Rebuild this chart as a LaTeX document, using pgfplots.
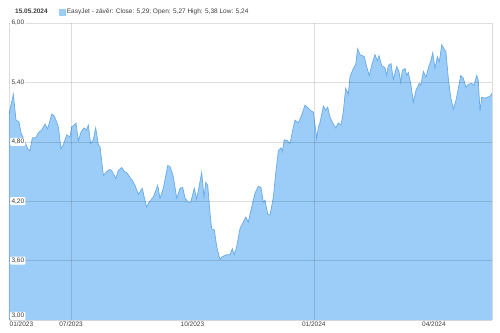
\documentclass[border=0pt]{standalone}
\usepackage{fontspec}
\setmainfont{Liberation Sans}
\usepackage{pgfplots}
\usepackage{pgfplotstable}
\pgfplotsset{compat=1.18}
\definecolor{areafill}{RGB}{155,205,248}
\definecolor{arealine}{RGB}{105,170,230}
\definecolor{labc}{RGB}{60,60,60}

\pgfplotstableread{
d v
0 5.08
3.3 5.28
5.3 5.02
7.6 5.00
9.1 4.89
10.8 4.84
14.2 4.73
15.9 4.71
17.7 4.84
20.2 4.84
22.2 4.89
24.8 4.92
27.3 4.98
29.3 4.93
32.4 5.08
34.3 5.06
36.1 5.00
37.4 4.95
39.4 4.73
41.1 4.77
43.7 4.87
46.2 4.85
47.5 4.95
49.3 4.97
50.8 4.99
52.5 4.81
54.6 4.90
56.8 4.94
58.9 4.92
60.1 4.97
61.9 4.78
63.9 4.82
65.7 4.94
67.7 4.77
69.0 4.75
71.5 4.46
74.0 4.50
76.5 4.52
77.8 4.51
80.9 4.43
82.8 4.51
85.4 4.54
87.4 4.50
89.2 4.49
91.7 4.44
93.4 4.41
95.5 4.36
98.0 4.27
101.0 4.33
102.5 4.24
104.3 4.14
106.1 4.19
109.3 4.24
112.7 4.36
114.4 4.23
116.9 4.33
120.3 4.56
122.0 4.55
124.5 4.45
127.1 4.23
129.6 4.33
131.6 4.34
133.4 4.23
135.9 4.19
137.7 4.19
140.4 4.33
142.2 4.22
144.2 4.36
146.0 4.49
147.8 4.24
149.1 4.39
150.6 4.36
152.3 4.08
153.6 3.92
155.6 3.91
157.4 3.74
159.9 3.61
161.6 3.64
165.0 3.66
167.5 3.66
169.2 3.72
170.7 3.66
172.5 3.74
175.0 3.92
176.8 3.97
179.4 4.04
181.3 3.99
183.9 4.14
186.4 4.28
188.9 4.35
191.0 4.34
192.7 4.19
194.0 4.21
196.0 4.07
197.8 4.06
200.3 4.24
202.1 4.48
204.1 4.71
206.1 4.74
207.1 4.70
208.6 4.82
211.2 4.81
212.9 4.78
214.7 4.90
216.7 5.02
219.2 4.99
221.8 5.07
224.3 5.17
226.8 5.14
228.1 5.12
230.6 5.10
231.9 4.97
233.2 4.83
234.4 4.95
235.6 4.99
238.2 5.16
240.0 5.12
241.5 5.15
243.2 5.05
245.7 4.98
247.6 4.94
249.5 4.99
251.6 4.97
253.3 5.10
255.1 5.34
257.1 5.28
258.4 5.46
260.9 5.54
262.7 5.58
264.2 5.74
266.0 5.68
269.2 5.66
271.0 5.56
273.0 5.47
274.8 5.57
277.3 5.68
279.1 5.62
280.4 5.67
282.4 5.57
284.9 5.55
286.2 5.47
287.4 5.57
289.5 5.59
291.2 5.43
293.8 5.56
295.5 5.51
296.8 5.40
298.0 5.52
300.1 5.54
301.4 5.47
302.6 5.50
304.4 5.39
306.4 5.20
308.4 5.32
310.9 5.39
312.0 5.37
314.0 5.51
316.0 5.45
317.8 5.55
319.5 5.61
321.1 5.70
322.8 5.54
324.6 5.66
326.1 5.61
327.9 5.78
329.6 5.74
331.1 5.71
332.9 5.44
334.7 5.25
336.7 5.13
338.7 5.22
340.5 5.34
342.3 5.47
344.3 5.44
346.3 5.35
348.0 5.38
350.6 5.39
352.4 5.37
354.4 5.47
355.6 5.42
356.9 5.11
358.2 5.25
360.7 5.24
362.5 5.25
364.5 5.26
366 5.29
}\easyjet

\begin{document}
\begin{tikzpicture}
\begin{axis}[
  scale only axis, width=483pt, height=297pt,
  xmin=0, xmax=366, ymin=3, ymax=6,
  axis line style={draw=none},
  tick style={draw=none},
  axis on top,
  ytick={3.6,4.2,4.8,5.4,6.0},
  extra y ticks={3},
  extra y tick style={yticklabel style={anchor=south west}},
  ymajorgrids,
  grid style={black, opacity=0.13, line width=0.6pt},
  xtick={47,139,231,322},
  xticklabels={07/2023,10/2023,01/2024,04/2024},
  extra x ticks={0},
  extra x tick labels={01/2023},
  extra x tick style={xticklabel style={anchor=north west, xshift=-1pt}},
  minor xtick={0,47,231,366},
  xminorgrids,
  minor grid style={black, opacity=0.13, line width=0.6pt},
  yticklabel style={anchor=west, xshift=1pt, fill=white, inner sep=1.3pt, rounded corners=1pt,
    font=\fontsize{6.5}{7}\selectfont, text=labc},
  xticklabel style={font=\fontsize{6.5}{7}\selectfont, text=labc, inner sep=1.5pt},
  /pgf/number format/fixed,
  /pgf/number format/fixed zerofill,
  /pgf/number format/precision=2,
  /pgf/number format/use comma,
  /pgf/number format/assume math mode=true,
  legend style={at={(rel axis cs:0.1035,1.037)}, anchor=west, draw=none, fill=none,
    inner sep=0pt, font=\fontsize{6.5}{7}\selectfont, text=labc,
    nodes={inner sep=1pt}},
  legend image code/.code={\fill[areafill] (0pt,-3pt) rectangle (6pt,3pt);},
]
\addplot[fill=areafill, draw=none, forget plot] table[x=d, y=v] {\easyjet} \closedcycle;
\addplot[arealine, line width=0.7pt] table[x=d, y=v] {\easyjet};
\addlegendentry{EasyJet - závěr: Close: 5,29; Open: 5,27 High: 5,38 Low: 5,24}
\end{axis}
\node[anchor=west, font=\bfseries\fontsize{6.5}{7}\selectfont, text=labc, inner sep=0pt] at (6pt,309pt) {15.05.2024};
\pgfresetboundingbox
\path[use as bounding box] (-9pt,-12pt) rectangle (491pt,320pt);
\end{tikzpicture}
\end{document}
